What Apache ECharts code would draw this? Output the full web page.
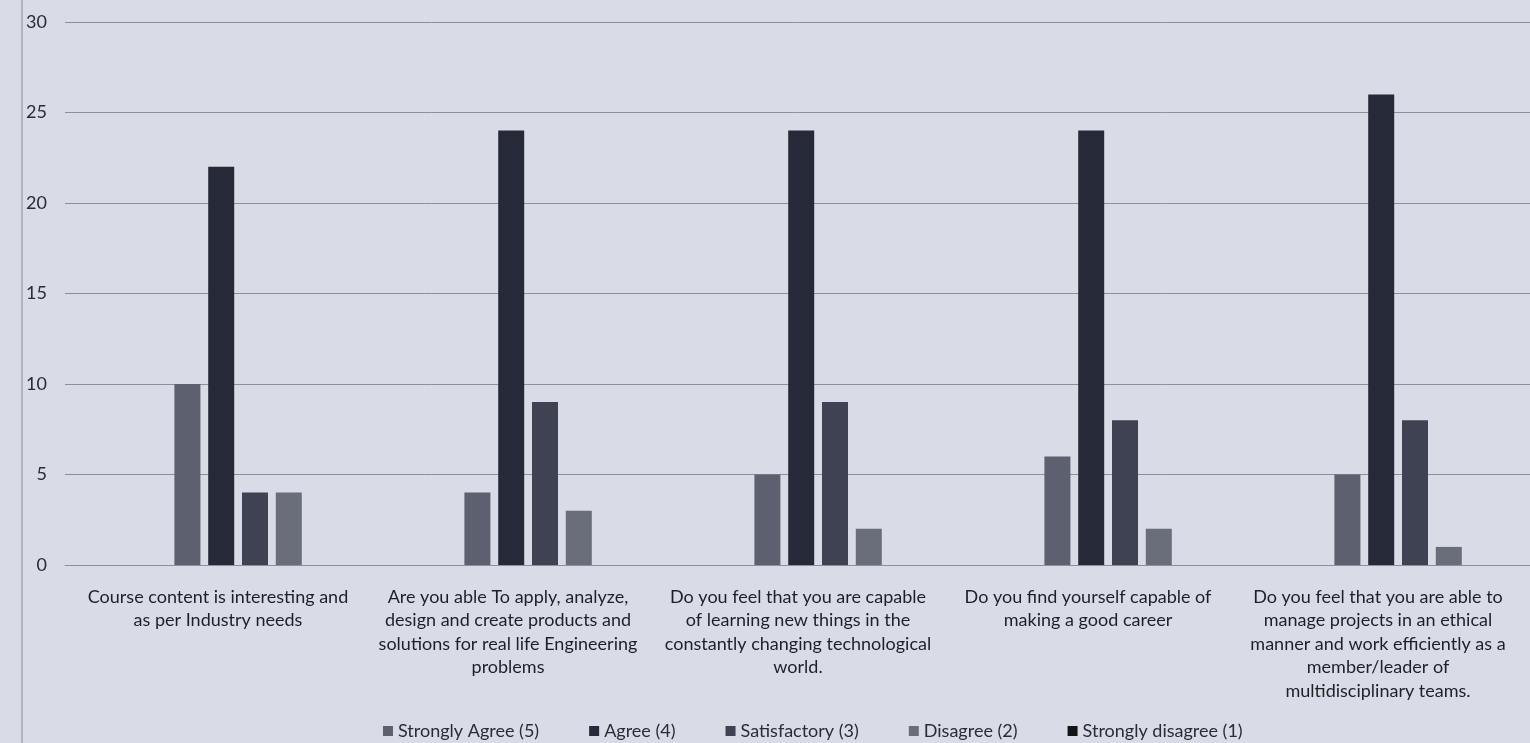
<!DOCTYPE html>
<html>
<head>
<meta charset="utf-8">
<script src="https://cdn.jsdelivr.net/npm/echarts@6/dist/echarts.min.js"></script>
<style>
html,body{margin:0;padding:0;background:#d9dce6;}
#c{width:1530px;height:743px;}
</style>
</head>
<body>
<div id="c"></div>
<script>
const categories = [
  "Course content is interesting and\nas per Industry needs",
  "Are you able To apply, analyze,\ndesign and create products and\nsolutions for real life Engineering\nproblems",
  "Do you feel that you are capable\nof learning new things in the\nconstantly changing technological\nworld.",
  "Do you find yourself capable of\nmaking a good career",
  "Do you feel that you are able to\nmanage projects in an ethical\nmanner and work efficiently as a\nmember/leader of\nmultidisciplinary teams."
];
const seriesNames = ["Strongly Agree (5)", "Agree (4)", "Satisfactory (3)", "Disagree (2)", "Strongly disagree (1)"];
const stronglyAgree = [10, 4, 5, 6, 5];
const agree = [22, 24, 24, 24, 26];
const satisfactory = [4, 9, 9, 8, 8];
const disagree = [4, 3, 2, 2, 1];
const stronglyDisagree = [0, 0, 0, 0, 0];
const yTicks = [0, 5, 10, 15, 20, 25, 30];

const colors = ["#5c606f", "#262a38", "#3e4252", "#6a6d7a", "#141418"];
const values = [stronglyAgree, agree, satisfactory, disagree, stronglyDisagree];
const font = "Lato, 'Open Sans', sans-serif";
const TOP = 22, BOTTOM = 178;

const chart = echarts.init(document.getElementById('c'));
chart.setOption({
  backgroundColor: '#d9dce6',
  animation: false,
  color: colors,
  textStyle: { fontFamily: font },
  grid: [
    { left: 65, right: 0, top: TOP, bottom: BOTTOM, outerBoundsMode: 'none' },
    { left: 110, width: 1450, top: TOP, bottom: BOTTOM, outerBoundsMode: 'none' },
    { left: 73, width: 1450, top: TOP, bottom: BOTTOM, outerBoundsMode: 'none' }
  ],
  legend: {
    left: 378, top: 717,
    icon: 'rect', itemWidth: 10, itemHeight: 10, itemGap: 50, itemTextGap: 4,
    textStyle: { fontSize: 18, color: '#2b2c33', fontFamily: font },
    data: seriesNames
  },
  xAxis: [
    {
      type: 'category', gridIndex: 0, data: categories,
      axisTick: { show: false },
      axisLine: { lineStyle: { color: '#8d9099', width: 1 } },
      axisLabel: { show: false }
    },
    {
      type: 'category', gridIndex: 1, data: categories,
      axisTick: { show: false }, axisLine: { show: false }, axisLabel: { show: false }
    },
    {
      type: 'category', gridIndex: 2, data: categories,
      axisTick: { show: false }, axisLine: { show: false },
      axisLabel: { interval: 0, margin: 20, fontSize: 18, lineHeight: 23.5, color: '#1f2026', fontFamily: font }
    }
  ],
  yAxis: [
    {
      type: 'value', gridIndex: 0, min: yTicks[0], max: yTicks[yTicks.length - 1], interval: 5,
      axisLine: { show: false }, axisTick: { show: false },
      axisLabel: { margin: 18, fontSize: 18, color: '#2a2b33', fontFamily: font },
      splitLine: { lineStyle: { color: '#8d9099', width: 1 } }
    },
    {
      type: 'value', gridIndex: 1, min: yTicks[0], max: yTicks[yTicks.length - 1], interval: 5,
      show: false
    },
    {
      type: 'value', gridIndex: 2, min: yTicks[0], max: yTicks[yTicks.length - 1], interval: 5,
      show: false
    }
  ],
  graphic: [
    { type: 'line', shape: { x1: 22, y1: 0, x2: 22, y2: 743 }, style: { stroke: '#8a8d96', lineWidth: 1 } }
  ],
  series: seriesNames.map((n, i) => ({
    name: n, type: 'bar', xAxisIndex: 1, yAxisIndex: 1,
    data: values[i], barWidth: 26, barGap: '30%',
    itemStyle: { color: colors[i] }
  }))
});
</script>
</body>
</html>
